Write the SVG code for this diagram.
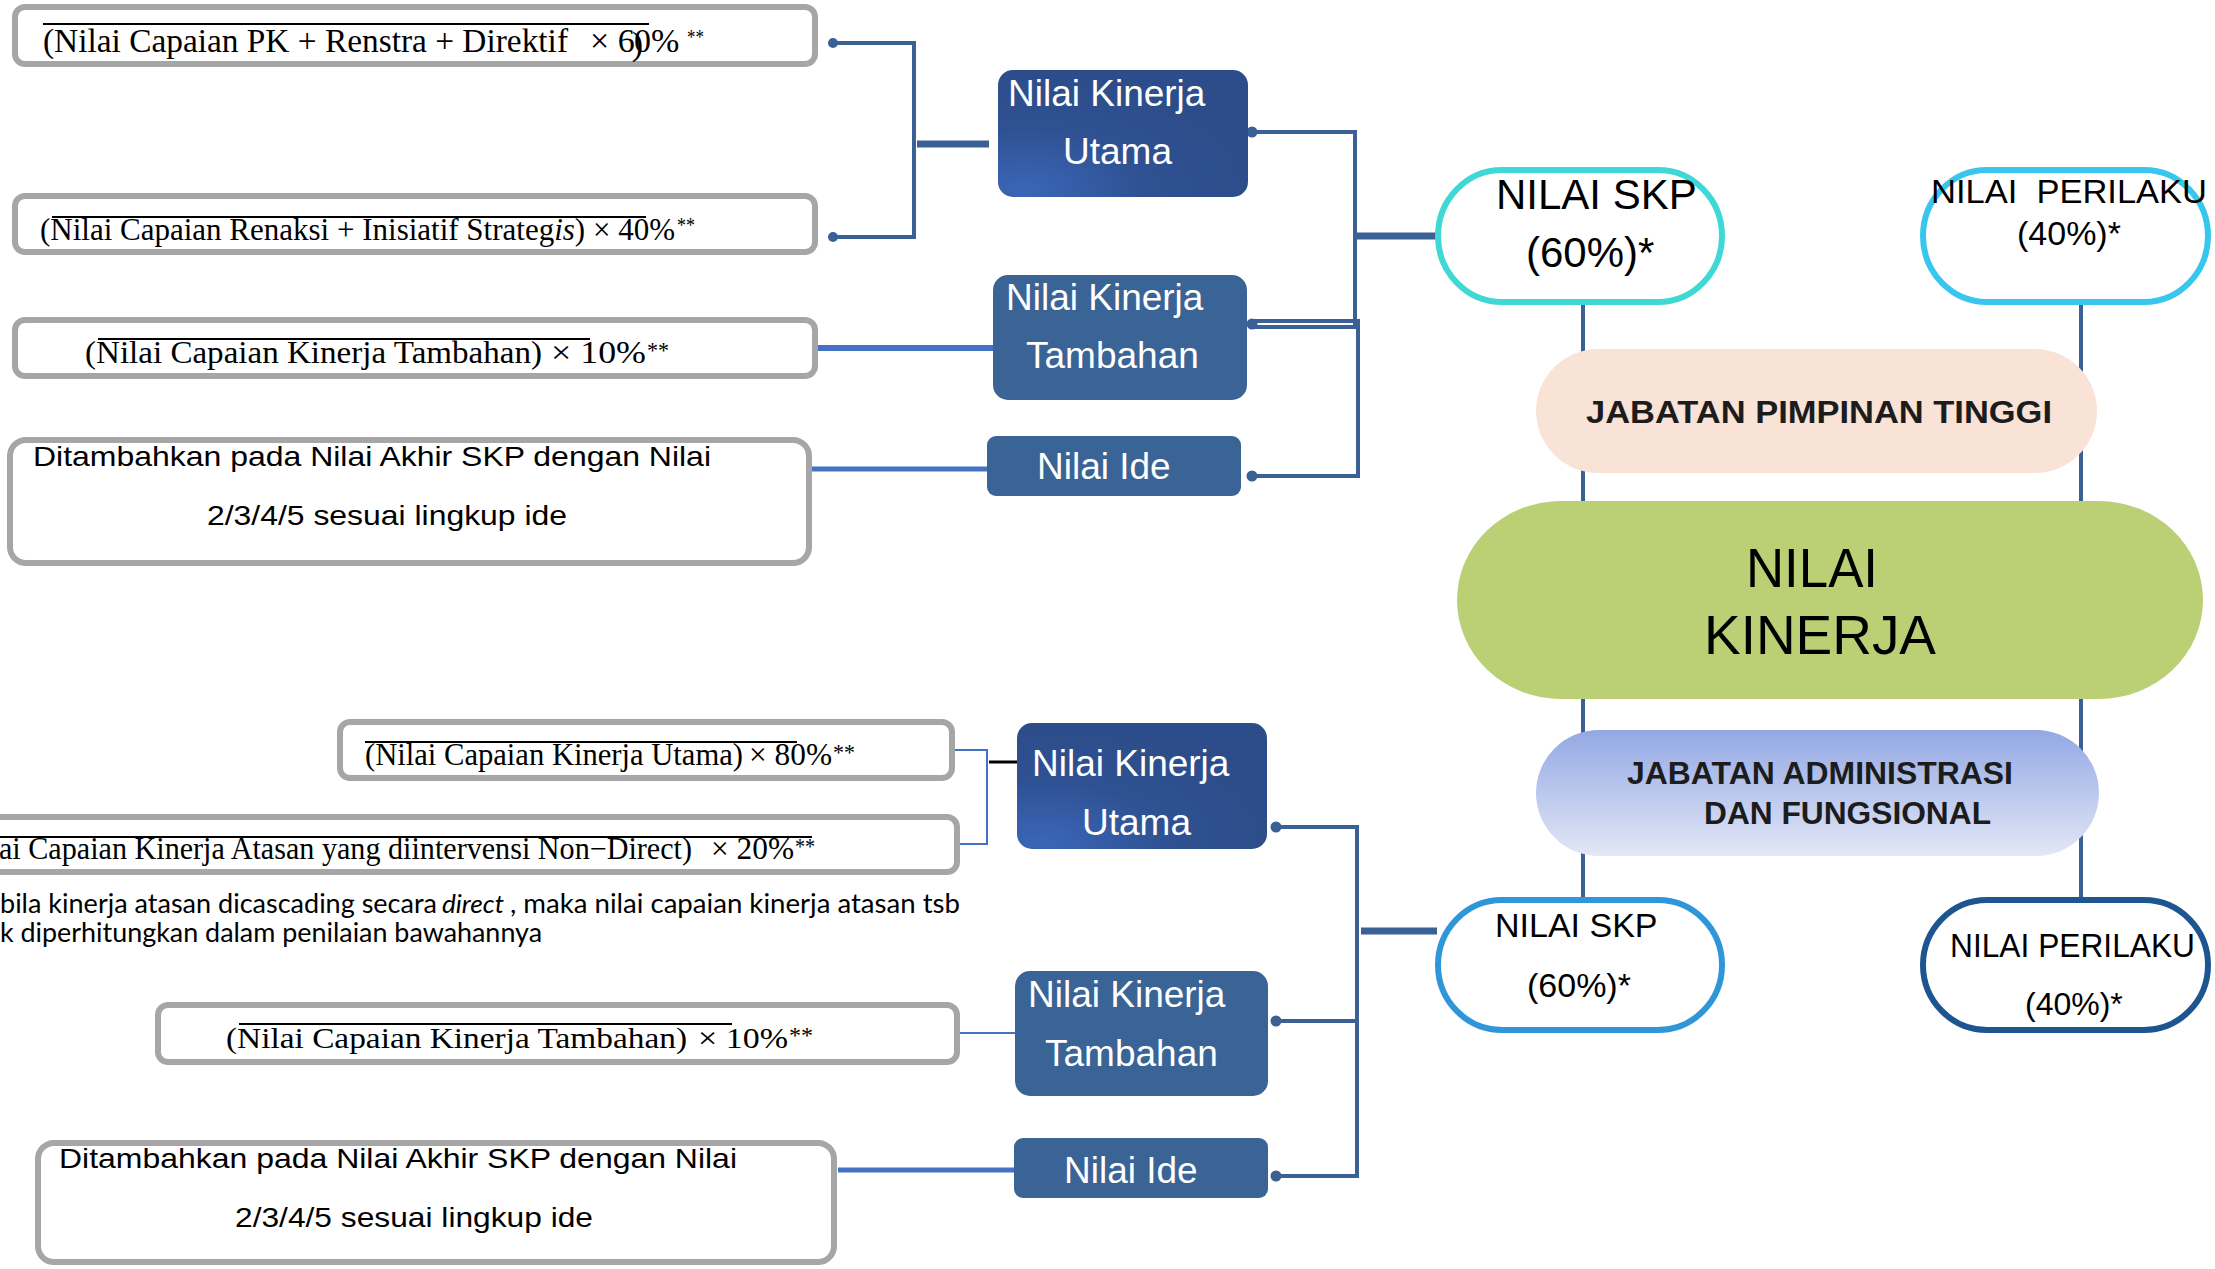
<svg xmlns="http://www.w3.org/2000/svg" width="2215" height="1269" viewBox="0 0 2215 1269">
  <defs>
    <radialGradient id="gUtama" cx="0.1" cy="0.95" r="0.9">
      <stop offset="0" stop-color="#3a66b8"/>
      <stop offset="0.55" stop-color="#2f5192"/>
      <stop offset="1" stop-color="#2d4d8a"/>
    </radialGradient>
    <linearGradient id="gJaf" x1="0" y1="0" x2="0" y2="1">
      <stop offset="0" stop-color="#93a8e4"/>
      <stop offset="1" stop-color="#e3e7f6"/>
    </linearGradient>
    <style>
      .box{fill:#fff;stroke:#a6a6a6;stroke-width:6}
      .nk{fill:#3a6396}
      .nku{fill:url(#gUtama)}
      .wt{fill:#fff;font-family:"Liberation Sans",Arial,sans-serif;font-size:37px}
      .fm{font-family:"Liberation Serif","Times New Roman",serif;fill:#000}
      .it{font-style:italic}
      .sn{font-family:"Liberation Sans",Arial,sans-serif;fill:#000}
      .nt{font-family:Lato,"Liberation Sans",sans-serif;fill:#000;font-size:26px}
      .bd{font-weight:bold;fill:#1c1c1c}
      .ol{stroke:#000;stroke-width:2}
      .cn{fill:none;stroke:#3a6096;stroke-width:4}
      .stub{fill:none;stroke:#3a6096;stroke-width:7}
      .lb{fill:none;stroke:#4472c4}
      .dot{fill:#3a6096}
      .ring{fill:#fff;stroke-width:6}
    </style>
  </defs>
  <rect width="2215" height="1269" fill="#fff"/>

  <!-- connectors -->
  <g id="connectors">
    <!-- top branch -->
    <path class="cn" d="M833 43 H914 V237 H833"/>
    <circle class="dot" cx="833" cy="43" r="5"/>
    <circle class="dot" cx="833" cy="237" r="5"/>
    <path class="stub" d="M917 144 H989"/>
    <path class="lb" stroke-width="6" d="M818 348 H993"/>
    <path class="lb" stroke-width="5" d="M812 469 H987"/>
    <path class="cn" d="M1252 132 H1355 V327"/>
    <path class="cn" stroke-width="2.5" d="M1252 321 H1360"/>
    <path class="cn" stroke-width="2.5" d="M1252 327 H1360"/>
    <path class="cn" d="M1252 476 H1358 V321"/>
    <circle class="dot" cx="1252" cy="132" r="5.5"/>
    <circle class="dot" cx="1252" cy="324" r="5.5"/>
    <circle class="dot" cx="1252" cy="476" r="5.5"/>
    <path class="stub" d="M1357 236 H1437"/>
    <!-- vertical links between the score ovals -->
    <path class="cn" stroke-width="9" d="M1583 305 V898"/>
    <path class="cn" stroke-width="9" d="M2081 305 V898"/>
    <!-- bottom branch -->
    <path class="lb" stroke-width="2" d="M953 750 H987 V844 H959"/>
    <path fill="none" stroke="#000" stroke-width="3" d="M989 762 H1020"/>
    <path class="cn" d="M1276 827 H1357 V1176 H1276"/>
    <path class="cn" d="M1276 1021 H1357"/>
    <circle class="dot" cx="1276" cy="827" r="5.5"/>
    <circle class="dot" cx="1276" cy="1021" r="5.5"/>
    <circle class="dot" cx="1276" cy="1176" r="5.5"/>
    <path class="stub" d="M1361 931 H1437"/>
    <path class="lb" stroke-width="2" d="M960 1033 H1015"/>
    <path class="lb" stroke-width="5" d="M838 1170 H1014"/>
  </g>

  <!-- formula boxes, upper group -->
  <g id="f-pk">
    <rect class="box" x="15" y="7" width="800" height="57" rx="10"/>
    <line class="ol" x1="43" y1="24" x2="649" y2="24"/>
    <text class="fm" font-size="34" x="43" y="52" textLength="525" lengthAdjust="spacingAndGlyphs">(Nilai Capaian PK + Renstra + Direktif</text>
    <text class="fm" font-size="34" x="590" y="52">× 6<tspan dx="-3" dy="3">)</tspan><tspan dx="-9" dy="-3">0%</tspan></text>
    <text class="fm" font-size="22" x="687" y="44" textLength="17" lengthAdjust="spacingAndGlyphs">**</text>
  </g>
  <g id="f-renaksi">
    <rect class="box" x="15" y="196" width="800" height="56" rx="10"/>
    <line class="ol" x1="52" y1="217" x2="646" y2="217"/>
    <text class="fm" font-size="31" x="40" y="240" textLength="635" lengthAdjust="spacingAndGlyphs">(Nilai Capaian Renaksi + Inisiatif Strateg<tspan class="it">is</tspan>) × 40%</text>
    <text class="fm" font-size="20" x="677" y="232" textLength="18" lengthAdjust="spacingAndGlyphs">**</text>
  </g>
  <g id="f-tambahan1">
    <rect class="box" x="15" y="320" width="800" height="56" rx="10"/>
    <line class="ol" x1="98" y1="339" x2="590" y2="339"/>
    <text class="fm" font-size="31" x="85" y="363" textLength="457" lengthAdjust="spacingAndGlyphs">(Nilai Capaian Kinerja Tambahan)</text>
    <text class="fm" font-size="31" x="551" y="363" textLength="95" lengthAdjust="spacingAndGlyphs">× 10%</text>
    <text class="fm" font-size="24" x="647" y="358" textLength="22" lengthAdjust="spacingAndGlyphs">**</text>
  </g>
  <g id="f-ide1">
    <rect class="box" x="10" y="440" width="799" height="123" rx="16"/>
    <text class="sn" font-size="28" x="33" y="466" textLength="678" lengthAdjust="spacingAndGlyphs">Ditambahkan pada Nilai Akhir SKP dengan Nilai</text>
    <text class="sn" font-size="28" x="207" y="525" textLength="360" lengthAdjust="spacingAndGlyphs">2/3/4/5 sesuai lingkup ide</text>
  </g>

  <!-- component nodes, upper group -->
  <g id="nk-utama1">
    <rect class="nku" x="998" y="70" width="250" height="127" rx="15"/>
    <text class="wt" x="1008" y="106">Nilai Kinerja</text>
    <text class="wt" x="1063" y="164">Utama</text>
  </g>
  <g id="nk-tambahan1">
    <rect class="nk" x="993" y="275" width="254" height="125" rx="15"/>
    <text class="wt" x="1006" y="310">Nilai Kinerja</text>
    <text class="wt" x="1026" y="368">Tambahan</text>
  </g>
  <g id="nk-ide1">
    <rect class="nk" x="987" y="436" width="254" height="60" rx="9"/>
    <text class="wt" x="1037" y="479">Nilai Ide</text>
  </g>

  <!-- score ovals and category bands -->
  <g id="skp-jpt">
    <rect class="ring" stroke="#3fd8d5" x="1438" y="170" width="284" height="132" rx="64" ry="66"/>
    <text class="sn" font-size="42" x="1496" y="209">NILAI SKP</text>
    <text class="sn" font-size="42" x="1526" y="267">(60%)*</text>
  </g>
  <g id="perilaku-jpt">
    <rect class="ring" stroke="#38c6ee" x="1923" y="170" width="285" height="132" rx="64" ry="66"/>
    <text class="sn" font-size="34" x="1931" y="203" textLength="276" lengthAdjust="spacingAndGlyphs" xml:space="preserve">NILAI  PERILAKU</text>
    <text class="sn" font-size="34" x="2017" y="245">(40%)*</text>
  </g>
  <g id="jpt">
    <rect fill="#f9e2d6" x="1536" y="349" width="561" height="124" rx="62"/>
    <text class="sn bd" font-size="32" x="1586" y="423" textLength="466" lengthAdjust="spacingAndGlyphs">JABATAN PIMPINAN TINGGI</text>
  </g>
  <g id="nilai-kinerja">
    <rect fill="#bbcf75" x="1457" y="501" width="746" height="198" rx="104" ry="99"/>
    <text class="sn" fill="#1a1a1a" font-size="56" x="1746" y="587" textLength="132" lengthAdjust="spacingAndGlyphs">NILAI</text>
    <text class="sn" fill="#1a1a1a" font-size="56" x="1704" y="654" textLength="232" lengthAdjust="spacingAndGlyphs">KINERJA</text>
  </g>
  <g id="jaf">
    <rect fill="url(#gJaf)" x="1536" y="730" width="563" height="126" rx="63"/>
    <text class="sn bd" font-size="31" x="1627" y="784" textLength="386" lengthAdjust="spacingAndGlyphs">JABATAN ADMINISTRASI</text>
    <text class="sn bd" font-size="31" x="1704" y="824" textLength="287" lengthAdjust="spacingAndGlyphs">DAN FUNGSIONAL</text>
  </g>
  <g id="skp-jaf">
    <rect class="ring" stroke="#2e96d9" x="1438" y="900" width="284" height="130" rx="64" ry="65"/>
    <text class="sn" font-size="34" x="1495" y="937">NILAI SKP</text>
    <text class="sn" font-size="34" x="1527" y="997">(60%)*</text>
  </g>
  <g id="perilaku-jaf">
    <rect class="ring" stroke="#1d5591" x="1923" y="900" width="285" height="130" rx="64" ry="65"/>
    <text class="sn" font-size="33" x="1950" y="957" textLength="245" lengthAdjust="spacingAndGlyphs">NILAI PERILAKU</text>
    <text class="sn" font-size="32" x="2025" y="1015">(40%)*</text>
  </g>

  <!-- formula boxes, lower group -->
  <g id="f-utama2">
    <rect class="box" x="340" y="722" width="612" height="56" rx="10"/>
    <line class="ol" x1="365" y1="742" x2="797" y2="742"/>
    <text class="fm" font-size="31" x="365" y="765" textLength="378" lengthAdjust="spacingAndGlyphs">(Nilai Capaian Kinerja Utama)</text>
    <text class="fm" font-size="31" x="749" y="765" textLength="83" lengthAdjust="spacingAndGlyphs">× 80%</text>
    <text class="fm" font-size="24" x="833" y="760" textLength="22" lengthAdjust="spacingAndGlyphs">**</text>
  </g>
  <g id="f-atasan">
    <rect class="box" x="-20" y="817" width="977" height="55" rx="10"/>
    <line class="ol" x1="0" y1="837" x2="812" y2="837"/>
    <text class="fm" font-size="31" x="-1" y="859" textLength="693" lengthAdjust="spacingAndGlyphs">ai Capaian Kinerja Atasan yang diintervensi Non−Direct)</text>
    <text class="fm" font-size="31" x="711" y="859" textLength="83" lengthAdjust="spacingAndGlyphs">× 20%</text>
    <text class="fm" font-size="24" x="795" y="854" textLength="20" lengthAdjust="spacingAndGlyphs">**</text>
  </g>
  <g id="catatan">
    <text class="nt" x="0" y="913" textLength="437" lengthAdjust="spacingAndGlyphs">bila kinerja atasan dicascading secara</text>
    <text class="nt it" x="442" y="913" textLength="62" lengthAdjust="spacingAndGlyphs">direct</text>
    <text class="nt" x="510" y="913" textLength="450" lengthAdjust="spacingAndGlyphs">, maka nilai capaian kinerja atasan tsb</text>
    <text class="nt" x="0" y="942" textLength="542" lengthAdjust="spacingAndGlyphs">k diperhitungkan dalam penilaian bawahannya</text>
  </g>
  <g id="f-tambahan2">
    <rect class="box" x="158" y="1005" width="799" height="57" rx="10"/>
    <line class="ol" x1="239" y1="1024" x2="732" y2="1024"/>
    <text class="fm" font-size="29" x="226" y="1048" textLength="461" lengthAdjust="spacingAndGlyphs">(Nilai Capaian Kinerja Tambahan)</text>
    <text class="fm" font-size="29" x="698" y="1048" textLength="90" lengthAdjust="spacingAndGlyphs">× 10%</text>
    <text class="fm" font-size="23" x="789" y="1043" textLength="24" lengthAdjust="spacingAndGlyphs">**</text>
  </g>
  <g id="f-ide2">
    <rect class="box" x="38" y="1143" width="796" height="119" rx="16"/>
    <text class="sn" font-size="28" x="59" y="1168" textLength="678" lengthAdjust="spacingAndGlyphs">Ditambahkan pada Nilai Akhir SKP dengan Nilai</text>
    <text class="sn" font-size="28" x="235" y="1227" textLength="358" lengthAdjust="spacingAndGlyphs">2/3/4/5 sesuai lingkup ide</text>
  </g>

  <!-- component nodes, lower group -->
  <g id="nk-utama2">
    <rect class="nku" x="1017" y="723" width="250" height="126" rx="15"/>
    <text class="wt" x="1032" y="776">Nilai Kinerja</text>
    <text class="wt" x="1082" y="835">Utama</text>
  </g>
  <g id="nk-tambahan2">
    <rect class="nk" x="1015" y="971" width="253" height="125" rx="15"/>
    <text class="wt" x="1028" y="1007">Nilai Kinerja</text>
    <text class="wt" x="1045" y="1066">Tambahan</text>
  </g>
  <g id="nk-ide2">
    <rect class="nk" x="1014" y="1138" width="254" height="60" rx="9"/>
    <text class="wt" x="1064" y="1183">Nilai Ide</text>
  </g>
</svg>
